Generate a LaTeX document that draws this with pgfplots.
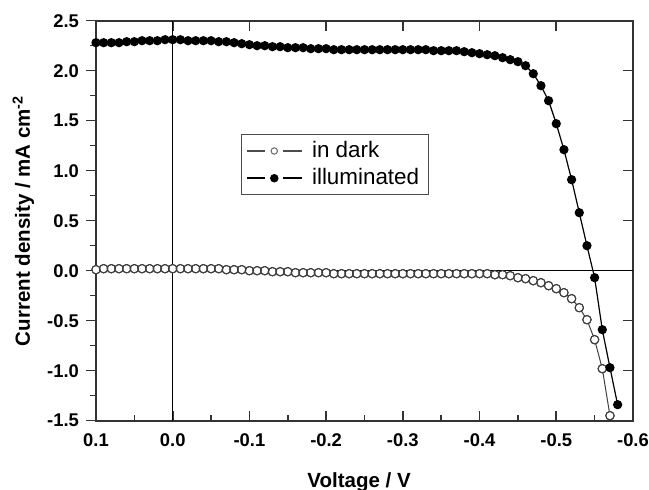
\documentclass[border=0pt]{standalone}
\usepackage{pgfplots}
\usepackage{pgfplotstable}
\pgfplotsset{compat=1.18}
\usepackage{fontspec}
\setmainfont{Liberation Sans}

\pgfplotstableread{
V J
0.10 2.28
0.09 2.28
0.08 2.28
0.07 2.28
0.06 2.29
0.05 2.29
0.04 2.30
0.03 2.30
0.02 2.30
0.01 2.31
0.00 2.31
-0.01 2.31
-0.02 2.30
-0.03 2.30
-0.04 2.30
-0.05 2.30
-0.06 2.29
-0.07 2.29
-0.08 2.28
-0.09 2.27
-0.10 2.26
-0.11 2.25
-0.12 2.25
-0.13 2.24
-0.14 2.24
-0.15 2.23
-0.16 2.23
-0.17 2.23
-0.18 2.22
-0.19 2.22
-0.20 2.22
-0.21 2.21
-0.22 2.21
-0.23 2.21
-0.24 2.21
-0.25 2.21
-0.26 2.21
-0.27 2.21
-0.28 2.21
-0.29 2.21
-0.30 2.21
-0.31 2.21
-0.32 2.21
-0.33 2.21
-0.34 2.20
-0.35 2.20
-0.36 2.20
-0.37 2.20
-0.38 2.19
-0.39 2.18
-0.40 2.17
-0.41 2.16
-0.42 2.15
-0.43 2.13
-0.44 2.11
-0.45 2.09
-0.46 2.05
-0.47 1.97
-0.48 1.85
-0.49 1.70
-0.50 1.47
-0.51 1.21
-0.52 0.91
-0.53 0.58
-0.54 0.25
-0.55 -0.07
-0.56 -0.59
-0.57 -0.97
-0.58 -1.34
}\illum

\pgfplotstableread{
V J
0.10 0.01
0.09 0.02
0.08 0.02
0.07 0.02
0.06 0.02
0.05 0.02
0.04 0.02
0.03 0.02
0.02 0.02
0.01 0.02
0.00 0.02
-0.01 0.02
-0.02 0.02
-0.03 0.02
-0.04 0.02
-0.05 0.02
-0.06 0.02
-0.07 0.01
-0.08 0.01
-0.09 0.01
-0.10 0.00
-0.11 0.00
-0.12 0.00
-0.13 -0.01
-0.14 -0.01
-0.15 -0.01
-0.16 -0.02
-0.17 -0.02
-0.18 -0.02
-0.19 -0.02
-0.20 -0.02
-0.21 -0.03
-0.22 -0.03
-0.23 -0.03
-0.24 -0.03
-0.25 -0.03
-0.26 -0.03
-0.27 -0.03
-0.28 -0.03
-0.29 -0.03
-0.30 -0.03
-0.31 -0.03
-0.32 -0.03
-0.33 -0.03
-0.34 -0.03
-0.35 -0.03
-0.36 -0.03
-0.37 -0.03
-0.38 -0.03
-0.39 -0.03
-0.40 -0.03
-0.41 -0.03
-0.42 -0.04
-0.43 -0.04
-0.44 -0.05
-0.45 -0.07
-0.46 -0.08
-0.47 -0.10
-0.48 -0.12
-0.49 -0.15
-0.50 -0.18
-0.51 -0.22
-0.52 -0.28
-0.53 -0.37
-0.54 -0.49
-0.55 -0.69
-0.56 -0.98
-0.57 -1.45
}\dark

\begin{document}
\begin{tikzpicture}
\pgfplotsset{
  common/.style={
    scale only axis, width=268.5pt, height=200pt,
    xmin=-0.6, xmax=0.1, ymin=-1.5, ymax=2.5, x dir=reverse,
    axis line style={black!80, line width=1pt},
    major tick length=5pt, minor tick length=3pt,
    every tick/.style={black!80, line width=0.8pt},
    xtick={-0.6,-0.5,-0.4,-0.3,-0.2,-0.1,0,0.1},
    ytick={-1.5,-1,-0.5,0,0.5,1,1.5,2,2.5},
    /pgf/number format/assume math mode=true,
    /pgf/number format/fixed,
    /pgf/number format/fixed zerofill,
    /pgf/number format/precision=1,
    tick label style={font=\fontsize{9.2}{11}\selectfont\bfseries},
  },
}
% top and right ticks (inside, majors only)
\begin{axis}[common, tick align=inside, xtick pos=right, ytick pos=right,
  xticklabels={}, yticklabels={}]
\end{axis}
% bottom ticks (inside, with minors) and x label
\begin{axis}[common, tick align=inside, xtick pos=left, ytick=\empty,
  minor x tick num=1,
  xticklabel style={yshift=-3pt},
  xlabel={Voltage / V},
  xlabel style={font=\bfseries\fontsize{10.25}{12}\selectfont, at={(axis description cs:0.49,-0.168)}, anchor=base},
]
\end{axis}
% main axis: data, left ticks outside, y label, legend
\begin{axis}[common, tick align=outside, xtick=\empty, ytick pos=left,
  minor y tick num=1,
  ylabel={Current density / mA cm\textsuperscript{-2}},
  ylabel style={font=\bfseries\fontsize{10.25}{12}\selectfont, at={(axis description cs:-0.1229,0.5)}, rotate=0, anchor=base},
  legend style={at={(0.27,0.717)}, anchor=north west, draw=black!70, line width=0.5pt,
    font=\fontsize{11.2}{13.5}\selectfont, inner xsep=2.5pt, inner ysep=1.5pt,
    row sep=0pt, fill=white},
  legend cell align=left,
]
\addplot[black, line width=0.7pt, forget plot] coordinates {(0,-1.5) (0,2.5)};
\addplot[black, line width=0.7pt, forget plot] coordinates {(0.1,0) (-0.6,0)};
% dark: line, white mask, outlines
\addplot[black!75, line width=0.5pt, forget plot] table[x=V, y=J] {\dark};
\addplot[only marks, mark=*, mark size=2.1pt, mark options={draw=none, fill=white}, forget plot] table[x=V, y=J] {\dark};
\addplot[only marks, mark=o, mark size=2.1pt, mark options={draw=black!75, line width=0.5pt},
  legend image code/.code={
    \draw[black!70, line width=0.7pt] (0pt,0pt) -- (9pt,0pt);
    \draw[black!70, line width=0.7pt] (18pt,0pt) -- (27.5pt,0pt);
    \draw[black!60, line width=0.5pt] (13.5pt,0pt) circle (1.6pt);
  }] table[x=V, y=J] {\dark};
\addlegendentry{\rule{2.5pt}{0pt}in dark}
\addplot[black, line width=0.6pt, mark=*, mark size=2pt, mark options={draw=black, fill=black},
  legend image code/.code={
    \draw[black, line width=0.8pt] (0pt,0pt) -- (9pt,0pt);
    \draw[black, line width=0.8pt] (18pt,0pt) -- (27.5pt,0pt);
    \fill[black] (13.5pt,0pt) circle (1.8pt);
  }] table[x=V, y=J] {\illum};
\addlegendentry{\rule{2.5pt}{0pt}illuminated}
\path (rel axis cs:0,0) coordinate (SW);
\end{axis}
\pgfresetboundingbox
\path ([xshift=-48pt, yshift=-34.65pt]SW) rectangle ([xshift=276.5pt, yshift=210.35pt]SW);
\end{tikzpicture}
\end{document}
